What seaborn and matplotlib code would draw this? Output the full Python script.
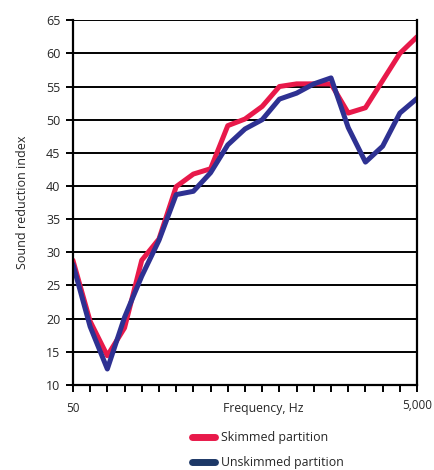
import pandas as pd
import numpy as np
import matplotlib.pyplot as plt
import seaborn as sns
from matplotlib.lines import Line2D

# third-octave band centre frequencies, Hz
freqs = [50, 63, 80, 100, 125, 160, 200, 250, 315, 400, 500,
         630, 800, 1000, 1250, 1600, 2000, 2500, 3150, 4000, 5000]
skimmed = [28.8, 19.6, 14.4, 18.6, 28.8, 32.0, 39.9, 41.8, 42.6, 49.1, 50.1,
           52.0, 55.0, 55.4, 55.4, 55.4, 51.0, 51.8, 55.9, 60.0, 62.5]
unskimmed = [28.2, 18.8, 12.4, 20.2, 26.4, 31.8, 38.7, 39.2, 42.0, 46.2, 48.6,
             50.0, 53.1, 54.0, 55.4, 56.3, 48.8, 43.6, 46.0, 51.0, 53.2]
labels = ["Skimmed partition", "Unskimmed partition"]
red = "#E8194A"
blue = "#2E3192"
legend_blue = "#1C3766"

df = pd.DataFrame({
    "pos": list(range(len(freqs))) * 2,
    "value": skimmed + unskimmed,
    "series": [labels[0]] * len(freqs) + [labels[1]] * len(freqs),
})

sns.set_style("white")
plt.rcParams["font.family"] = ["Open Sans", "DejaVu Sans"]

fig = plt.figure(figsize=(4.34, 4.70), dpi=100)
ax = fig.add_axes([0.168, 0.181, 0.793, 0.776])

sns.lineplot(data=df, x="pos", y="value", hue="series",
             palette={labels[0]: red, labels[1]: blue},
             linewidth=3.6, legend=False, ax=ax)

ax.set_xlim(0, len(freqs) - 1)
ax.set_ylim(10, 65)
ax.set_yticks(np.arange(10, 66, 5))
ax.yaxis.grid(True, color="black", linewidth=1.4)
ax.xaxis.grid(False)
ax.set_axisbelow(True)

ax.set_xticks(range(len(freqs)))
xt = [""] * len(freqs)
xt[0] = "50"
xt[-1] = "5,000"
ax.set_xticklabels(xt)

for s in ["left", "right", "bottom"]:
    ax.spines[s].set_visible(True)
    ax.spines[s].set_color("black")
    ax.spines[s].set_linewidth(1.6)
ax.spines["top"].set_visible(False)

ax.tick_params(axis="x", direction="out", length=5, width=1.4, color="black",
               labelsize=8.5, pad=7, bottom=True)
ax.tick_params(axis="y", direction="out", length=5, width=1.4, color="black",
               labelsize=9, pad=4, left=True)
for lbl in ax.get_xticklabels():
    if lbl.get_text() == "5,000":
        lbl.set_y(0.006)

ax.set_xlabel("Frequency, Hz", fontsize=8.8, labelpad=-9, x=0.552)
ax.set_ylabel("Sound reduction index", fontsize=9, labelpad=12)

handles = [Line2D([0], [0], color=red, lw=5),
           Line2D([0], [0], color=legend_blue, lw=5)]
fig.legend(handles, labels, loc="upper left", bbox_to_anchor=(0.442, 0.083),
           frameon=False, fontsize=8.9, handlelength=1.85, handletextpad=0.55,
           labelspacing=1.0, borderaxespad=0, borderpad=0)

fig.savefig("out.png", dpi=100)
